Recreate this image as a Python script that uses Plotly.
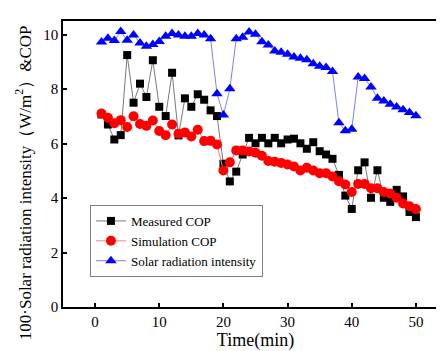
import plotly.graph_objects as go

time = list(range(1, 51))

measured_cop = [7.07, 6.70, 6.15, 6.31, 9.25, 7.50, 8.20, 7.71, 9.06, 7.35,
                7.01, 8.60, 6.30, 7.66, 7.35, 7.81, 7.61, 7.22, 7.01, 5.26,
                4.61, 4.97, 5.60, 6.21, 6.01, 6.21, 6.01, 6.21, 6.01, 6.15,
                6.18, 6.01, 5.81, 6.05, 5.72, 5.60, 5.44, 4.85, 4.09, 3.60,
                5.02, 5.31, 4.01, 5.02, 4.01, 3.86, 4.30, 4.06, 3.49, 3.30]

simulation_cop = [7.10, 6.95, 6.75, 6.86, 6.61, 7.00, 6.72, 6.65, 6.85, 6.46,
                  6.31, 6.70, 6.36, 6.41, 6.26, 6.51, 6.09, 6.10, 5.97, 5.01,
                  5.31, 5.75, 5.75, 5.71, 5.66, 5.55, 5.36, 5.33, 5.29, 5.23,
                  5.16, 5.01, 5.11, 5.01, 4.91, 4.91, 4.79, 4.62, 4.50, 4.22,
                  4.52, 4.52, 4.36, 4.36, 4.22, 4.17, 4.01, 3.80, 3.70, 3.60]

solar_radiation = [9.73, 9.87, 9.78, 10.11, 9.79, 9.99, 9.69, 9.57, 9.64, 9.75,
                   9.94, 10.04, 9.99, 9.94, 9.94, 10.04, 9.99, 9.85, 7.83, 7.05,
                   8.01, 9.85, 9.90, 10.10, 10.01, 9.74, 9.62, 9.40, 9.35, 9.28,
                   9.18, 9.13, 9.08, 8.93, 8.84, 8.79, 8.65, 6.76, 6.47, 6.53,
                   8.44, 8.39, 8.08, 7.66, 7.56, 7.44, 7.34, 7.24, 7.14, 7.02]

x_ticks = [0, 10, 20, 30, 40, 50]
y_ticks = [0, 2, 4, 6, 8, 10]

font_family = "Liberation Serif"

fig = go.Figure()
fig.add_trace(go.Scatter(
    x=time, y=measured_cop, name="Measured COP", mode="lines+markers",
    line=dict(color="#7a7a7a", width=1),
    marker=dict(symbol="square", size=8, color="black"),
))
fig.add_trace(go.Scatter(
    x=time, y=simulation_cop, name="Simulation COP", mode="lines+markers",
    line=dict(color="#ff8080", width=1),
    marker=dict(symbol="circle", size=10, color="#ff0000"),
))
fig.add_trace(go.Scatter(
    x=time, y=solar_radiation, name="Solar radiation intensity", mode="lines+markers",
    line=dict(color="#8080ff", width=1),
    marker=dict(symbol="triangle-up", size=10, color="#0000ff"),
))

axis_common = dict(
    showline=True, linecolor="black", linewidth=1.5, mirror=True,
    ticks="inside", ticklen=4, tickwidth=1.5, tickcolor="black",
    showgrid=False, zeroline=False,
    tickfont=dict(family=font_family, size=15, color="black"),
)

fig.update_xaxes(
    range=[-5, 55], tickvals=x_ticks,
    title=dict(text="Time(min)", font=dict(family=font_family, size=18, color="black"), standoff=4),
    **axis_common,
)
fig.update_yaxes(range=[0, 10.5], tickvals=y_ticks, **axis_common)

fig.add_annotation(
    text="100·Solar radiation intensity（W/m<sup>2</sup>）&COP",
    xref="paper", yref="paper", x=-0.103, y=0.434,
    xanchor="center", yanchor="middle", textangle=-90, showarrow=False,
    font=dict(family=font_family, size=17, color="black"),
)

fig.update_layout(
    width=444, height=351,
    margin=dict(l=55, r=2, t=13, b=52),
    paper_bgcolor="white", plot_bgcolor="white",
    font=dict(family=font_family, color="black"),
    legend=dict(
        x=0.07, y=0.105, xanchor="left", yanchor="bottom",
        bgcolor="white", bordercolor="#808080", borderwidth=1,
        font=dict(family=font_family, size=13, color="black"),
        itemwidth=30, tracegroupgap=0,
    ),
)

fig.write_html("out.html")
